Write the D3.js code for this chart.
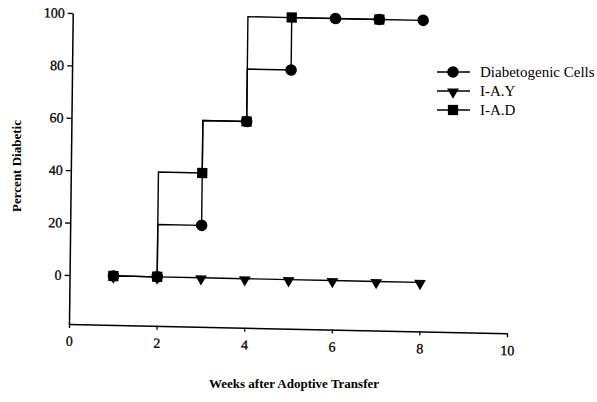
<!DOCTYPE html>
<html><head><meta charset="utf-8">
<script src="https://cdn.jsdelivr.net/npm/d3@7"></script>
<style>body{margin:0;background:#fff}</style>
</head><body><svg id="c" width="597" height="402"></svg>
<script>
// ---- data ----
const xTicks = [0, 2, 4, 6, 8, 10];
const yTicks = [0, 20, 40, 60, 80, 100];
const dcWeeks  = [1, 2, 3, 4, 5, 6, 7, 8];
const dcValues = [0, 0, 20, 60, 80, 100, 100, 100];
const iadWeeks  = [1, 2, 3, 4, 5, 7];
const iadValues = [0, 0, 40, 60, 100, 100];
const iayWeeks  = [1, 2, 3, 4, 5, 6, 7, 8];
const iayValues = [0, 0, 0, 0, 0, 0, 0, 0];
const seriesNames = ["Diabetogenic Cells", "I-A.Y", "I-A.D"];
const xTitle = "Weeks after Adoptive Transfer";
const yTitle = "Percent Diabetic";

// ---- layout ----
const svg = d3.select("#c");
const ox = 69, oy = 324;
const x = d3.scaleLinear().domain([0, 10]).range([ox, 507]);
const y = d3.scaleLinear().domain([-18.7, 100]).range([oy, 13]);
const serif = "'Liberation Serif','Times New Roman',serif";

const g = svg.append("g")
  .attr("transform", `translate(${ox},${oy}) matrix(1,0.021,-0.012,1,0,0) translate(${-ox},${-oy})`);

const xAxis = d3.axisBottom(x).tickValues(xTicks).tickSize(4).tickSizeOuter(0).tickPadding(8);
const yAxis = d3.axisLeft(y).tickValues(yTicks).tickSize(5).tickSizeOuter(0).tickPadding(3);

const gx = g.append("g").attr("transform", `translate(0,${oy})`).call(xAxis);
const gy = g.append("g").attr("transform", `translate(${ox},0)`).call(yAxis);
[gx, gy].forEach(a => {
  a.select(".domain").attr("stroke", "#000").attr("stroke-width", 1.5);
  a.selectAll(".tick line").attr("stroke", "#000").attr("stroke-width", 1.3);
  a.selectAll(".tick text").attr("fill", "#000").style("font-family", serif).style("font-size", "14px")
    .attr("stroke", "#000").attr("stroke-width", 0.3);
});

const pts = (ws, vs) => ws.map((w, i) => [w, vs[i]]);
const lineStep = d3.line().x(d => x(d[0])).y(d => y(d[1])).curve(d3.curveStepBefore);
const lineStraight = d3.line().x(d => x(d[0])).y(d => y(d[1]));

const dc = pts(dcWeeks, dcValues), iad = pts(iadWeeks, iadValues), iay = pts(iayWeeks, iayValues);

g.append("path").attr("d", lineStraight(iay)).attr("fill", "none").attr("stroke", "#000").attr("stroke-width", 1.4);
g.append("path").attr("d", lineStep(dc)).attr("fill", "none").attr("stroke", "#000").attr("stroke-width", 1.4);
g.append("path").attr("d", lineStep(iad)).attr("fill", "none").attr("stroke", "#000").attr("stroke-width", 1.4);

const triSym = d3.symbol().type(d3.symbolTriangle).size(60);
const cirSym = d3.symbol().type(d3.symbolCircle).size(105);
const sqSym  = d3.symbol().type(d3.symbolSquare).size(105);

g.selectAll(".tri").data(iay).join("path")
  .attr("d", triSym).attr("transform", d => `translate(${x(d[0])},${y(d[1]) + 1}) rotate(180)`).attr("fill", "#000");
g.selectAll(".cir").data(dc).join("path")
  .attr("d", cirSym).attr("transform", d => `translate(${x(d[0])},${y(d[1])})`).attr("fill", "#000");
g.selectAll(".sq").data(iad).join("path")
  .attr("d", sqSym).attr("transform", d => `translate(${x(d[0])},${y(d[1])})`).attr("fill", "#000");

// ---- titles ----
svg.append("text").attr("x", 294).attr("y", 388).attr("text-anchor", "middle")
  .style("font-family", serif).style("font-size", "13px").style("font-weight", "bold").text(xTitle);
svg.append("text").attr("transform", "translate(21,166) rotate(-90)").attr("text-anchor", "middle")
  .style("font-family", serif).style("font-size", "13px").style("font-weight", "bold").text(yTitle);

// ---- legend ----
const legendSyms = [cirSym, triSym, sqSym];
const legendY = [72, 91, 110];
const lg = svg.append("g");
seriesNames.forEach((name, i) => {
  const yy = legendY[i];
  lg.append("line").attr("x1", 437).attr("x2", 470).attr("y1", yy).attr("y2", yy)
    .attr("stroke", "#000").attr("stroke-width", 1.4);
  lg.append("path").attr("d", legendSyms[i])
    .attr("transform", `translate(453,${yy + (i === 1 ? 1 : 0)})${i === 1 ? " rotate(180)" : ""}`).attr("fill", "#000");
  lg.append("text").attr("x", 480).attr("y", yy + 5)
    .style("font-family", serif).style("font-size", "15px").text(name);
});
</script>
</body></html>
